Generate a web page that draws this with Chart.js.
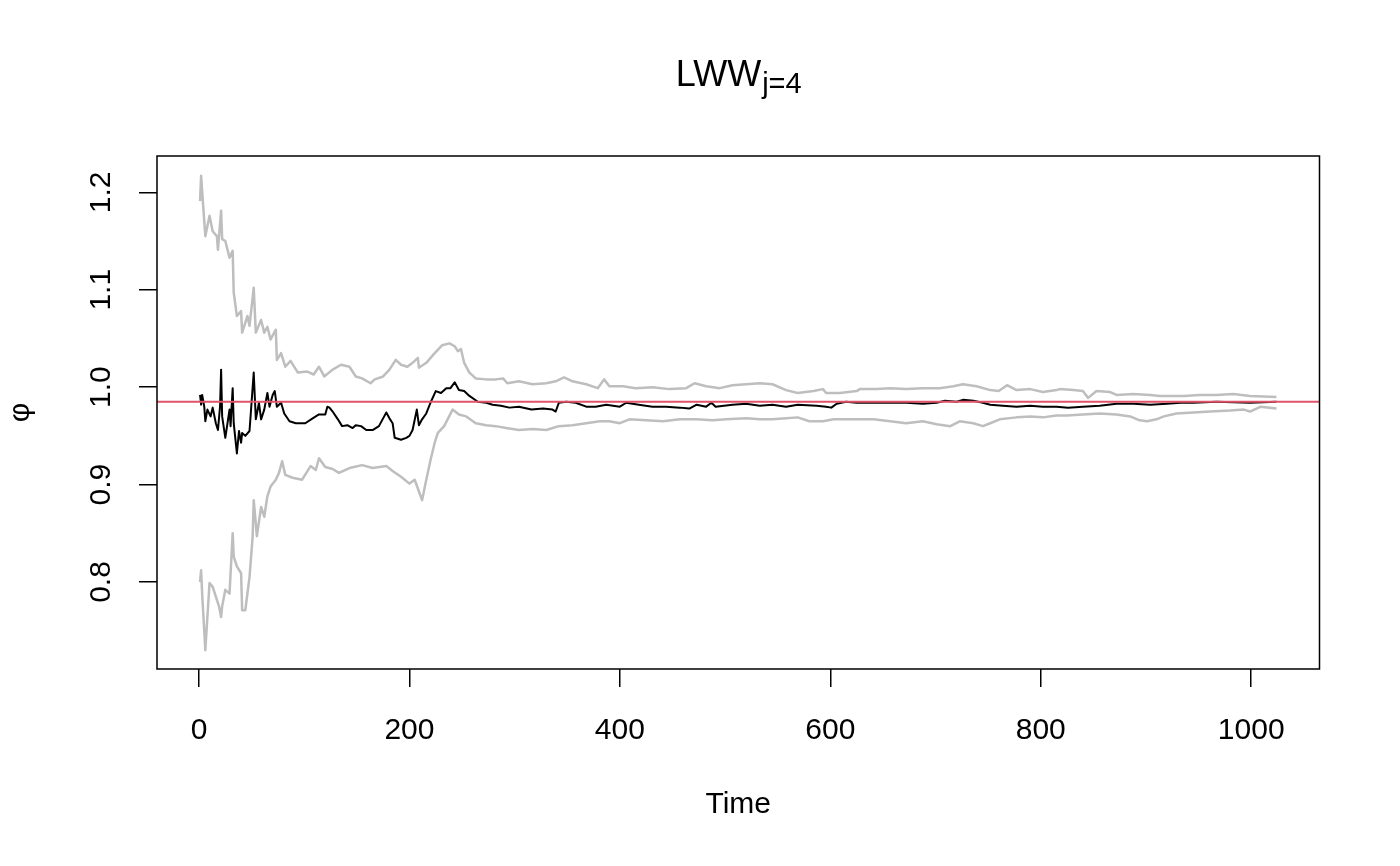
<!DOCTYPE html>
<html>
<head>
<meta charset="utf-8">
<title>LWW j=4</title>
<script src="https://cdn.jsdelivr.net/npm/chart.js@4.4.1/dist/chart.umd.min.js"></script>
<style>
    html, body { margin: 0; padding: 0; background: #fff; }
    #wrap { width: 1400px; height: 866px; }
</style>
</head>
<body>
<div id="wrap"><canvas id="lwwChart" width="1400" height="866"></canvas></div>
<script>
// ---- data ----
const xTicks = [0, 200, 400, 600, 800, 1000];
const yTicks = [0.8, 0.9, 1.0, 1.1, 1.2];
const yTickLabels = ['0.8', '0.9', '1.0', '1.1', '1.2'];

// upper band (grey)
const upperT = [1,2,3,6,10,13,17,18,21,22,25,29,32,33,36,40,41,46,48,52,54,59,62,65,68,73,74,78,82,87,94,103,109,114,119,127,135,143,149,155,163,167,175,181,187,192,198,203,208,209,216,224,231,238,243,246,249,252,257,263,273,282,289,293,304,317,330,339,347,355,368,379,385,390,403,415,431,447,463,471,482,495,507,520,533,545,558,569,584,593,596,609,625,628,644,657,672,688,704,717,726,739,752,760,768,777,790,802,815,818,831,840,845,853,866,872,888,904,913,936,951,967,983,999,1024];
const upperV = [1.191,1.217,1.201,1.155,1.176,1.160,1.155,1.141,1.181,1.152,1.150,1.133,1.140,1.097,1.073,1.078,1.056,1.073,1.063,1.102,1.056,1.069,1.056,1.062,1.049,1.059,1.028,1.035,1.021,1.027,1.015,1.016,1.013,1.021,1.011,1.018,1.023,1.021,1.011,1.009,1.004,1.008,1.011,1.018,1.028,1.023,1.021,1.025,1.030,1.020,1.025,1.035,1.043,1.045,1.042,1.037,1.039,1.025,1.015,1.009,1.008,1.008,1.009,1.004,1.006,1.003,1.004,1.006,1.010,1.006,1.003,0.999,1.008,1.001,1.001,0.999,1.000,0.998,0.999,1.004,1.001,0.999,1.002,1.003,1.004,1.003,0.997,0.994,0.996,0.998,0.994,0.994,0.996,0.998,0.998,0.999,0.998,0.999,0.999,1.001,1.003,1.001,0.997,0.996,1.002,0.997,0.998,0.995,0.997,0.998,0.997,0.996,0.989,0.996,0.995,0.992,0.993,0.992,0.991,0.991,0.992,0.992,0.993,0.991,0.990];

// lower band (grey)
const lowerT = [1,2,3,6,10,13,16,19,21,22,25,29,32,33,36,40,41,44,48,51,52,55,59,62,65,68,73,76,79,82,89,98,106,111,114,120,127,133,143,155,165,178,184,192,200,205,208,212,216,220,224,227,233,241,247,254,263,273,282,292,304,317,330,342,355,368,381,390,400,409,425,441,457,473,488,501,520,533,545,558,569,580,593,603,615,628,641,657,672,688,701,714,723,736,745,752,761,777,790,802,815,825,840,856,872,885,894,901,910,917,929,945,961,980,993,999,1009,1024];
const lowerV = [0.800,0.812,0.788,0.730,0.799,0.795,0.785,0.775,0.764,0.775,0.792,0.788,0.850,0.826,0.816,0.809,0.771,0.771,0.805,0.847,0.884,0.847,0.877,0.867,0.888,0.898,0.905,0.912,0.924,0.910,0.907,0.905,0.919,0.915,0.927,0.918,0.916,0.912,0.917,0.920,0.917,0.919,0.914,0.908,0.901,0.905,0.896,0.884,0.905,0.925,0.943,0.953,0.960,0.977,0.972,0.970,0.963,0.961,0.960,0.958,0.956,0.957,0.956,0.960,0.961,0.963,0.965,0.965,0.963,0.967,0.966,0.965,0.967,0.967,0.966,0.967,0.968,0.967,0.967,0.968,0.969,0.965,0.965,0.967,0.967,0.967,0.967,0.965,0.963,0.965,0.962,0.960,0.965,0.963,0.960,0.963,0.967,0.969,0.970,0.969,0.971,0.971,0.972,0.973,0.972,0.970,0.966,0.965,0.967,0.970,0.973,0.974,0.975,0.976,0.977,0.975,0.980,0.978];

// estimate (black)
const midT = [1,2,3,5,6,8,11,13,16,18,20,21,22,25,29,30,32,33,36,38,40,41,44,48,49,52,54,57,59,62,65,67,70,72,74,78,81,86,92,101,108,114,120,122,124,127,132,136,141,146,149,154,159,165,171,176,178,181,184,186,192,197,200,203,207,209,212,216,220,225,230,235,239,243,247,252,257,265,273,279,287,295,304,316,327,336,339,342,349,358,368,377,387,400,406,418,431,444,457,466,473,482,487,491,507,520,533,545,558,569,587,596,601,606,615,625,641,657,672,688,701,709,720,726,736,745,752,764,777,790,802,815,826,840,856,872,888,904,920,933,945,967,999,1024];
const midV = [0.992,0.982,0.992,0.980,0.965,0.977,0.970,0.979,0.963,0.956,0.980,1.018,0.970,0.948,0.977,0.960,0.999,0.963,0.932,0.955,0.943,0.953,0.950,0.955,0.970,1.015,0.967,0.984,0.967,0.977,0.994,0.980,0.992,0.996,0.980,0.984,0.973,0.965,0.963,0.963,0.968,0.972,0.972,0.980,0.979,0.975,0.967,0.960,0.961,0.958,0.961,0.960,0.956,0.956,0.960,0.970,0.974,0.968,0.963,0.948,0.946,0.948,0.950,0.956,0.977,0.961,0.967,0.973,0.984,0.996,0.994,0.999,0.999,1.005,0.997,0.996,0.991,0.985,0.984,0.982,0.981,0.979,0.980,0.977,0.978,0.977,0.975,0.984,0.985,0.984,0.980,0.980,0.982,0.980,0.984,0.982,0.980,0.980,0.979,0.978,0.982,0.980,0.984,0.980,0.982,0.983,0.981,0.982,0.980,0.982,0.981,0.980,0.979,0.983,0.985,0.984,0.984,0.984,0.984,0.983,0.984,0.986,0.985,0.987,0.986,0.984,0.982,0.981,0.980,0.981,0.980,0.980,0.979,0.980,0.981,0.983,0.983,0.982,0.983,0.984,0.984,0.985,0.984,0.985];

// reference level (red abline)
const refLevel = 0.985;

// axis limits (R style, 4% padding)
const xMin = -39.92, xMax = 1064.92;
const yMin = 0.7107, yMax = 1.2373;

const FONT = "'Liberation Sans', Arial, Helvetica, sans-serif";

const toPoints = (ts, vs) => ts.map((t, i) => ({ x: t, y: vs[i] }));

// frame, labels, title
const rDecor = {
    id: 'rDecor',
    afterDraw(chart) {
        const { ctx, chartArea: a, scales } = chart;
        ctx.save();
        ctx.strokeStyle = '#000';
        ctx.lineWidth = 1.5;
        ctx.strokeRect(a.left, a.top, a.right - a.left, a.bottom - a.top);

        ctx.fillStyle = '#000';
        ctx.font = `30px ${FONT}`;
        ctx.textAlign = 'center';
        ctx.textBaseline = 'alphabetic';
        xTicks.forEach(v => {
            ctx.fillText(String(v), scales.x.getPixelForValue(v), 738.5);
        });
        ctx.fillText('Time', (a.left + a.right) / 2, 813);

        yTicks.forEach((v, i) => {
            ctx.save();
            ctx.translate(110, scales.y.getPixelForValue(v));
            ctx.rotate(-Math.PI / 2);
            ctx.fillText(yTickLabels[i], 0, 0);
            ctx.restore();
        });
        ctx.save();
        ctx.translate(28.5, (a.top + a.bottom) / 2);
        ctx.rotate(-Math.PI / 2);
        ctx.fillText('\u03C6', 0, 0);
        ctx.restore();

        // title LWW with subscript j=4
        ctx.textAlign = 'left';
        ctx.font = `36px ${FONT}`;
        const w1 = ctx.measureText('LWW').width;
        ctx.font = `29px ${FONT}`;
        const w2 = ctx.measureText('j=4').width;
        const x0 = (a.left + a.right) / 2 - (w1 + w2) / 2;
        ctx.font = `36px ${FONT}`;
        ctx.fillText('LWW', x0, 86);
        ctx.font = `29px ${FONT}`;
        ctx.fillText('j=4', x0 + w1 + 1, 93);
        ctx.restore();
    }
};

const ctx = document.getElementById('lwwChart');
new Chart(ctx, {
    type: 'scatter',
    data: {
        datasets: [
            {
                data: [{ x: xMin, y: refLevel }, { x: xMax, y: refLevel }],
                borderColor: '#DF536B', borderWidth: 2, showLine: true, order: 0
            },
            {
                data: toPoints(midT, midV),
                borderColor: '#000000', borderWidth: 2, showLine: true, order: 1
            },
            {
                data: toPoints(upperT, upperV),
                borderColor: '#BEBEBE', borderWidth: 2.5, showLine: true, order: 2
            },
            {
                data: toPoints(lowerT, lowerV),
                borderColor: '#BEBEBE', borderWidth: 2.5, showLine: true, order: 3
            }
        ]
    },
    options: {
        responsive: false,
        animation: false,
        events: [],
        elements: {
            point: { radius: 0, hoverRadius: 0 },
            line: { tension: 0, borderJoinStyle: 'round' }
        },
        layout: { padding: { top: 156, right: 80.5, left: 0, bottom: 0 } },
        plugins: {
            legend: { display: false },
            tooltip: { enabled: false },
            title: { display: false }
        },
        scales: {
            x: {
                type: 'linear',
                min: xMin,
                max: xMax,
                afterBuildTicks: s => { s.ticks = xTicks.map(v => ({ value: v })); },
                afterFit: s => { s.height = 866 - 669; },
                border: { display: false },
                grid: { drawOnChartArea: false, drawTicks: true, tickLength: 18, color: '#000', lineWidth: 1.5 },
                ticks: { display: false }
            },
            y: {
                type: 'linear',
                min: yMin,
                max: yMax,
                afterBuildTicks: s => { s.ticks = yTicks.map(v => ({ value: v })); },
                afterFit: s => { s.width = 157; },
                border: { display: false },
                grid: { drawOnChartArea: false, drawTicks: true, tickLength: 18, color: '#000', lineWidth: 1.5 },
                ticks: { display: false }
            }
        }
    },
    plugins: [rDecor]
});
</script>
</body>
</html>
